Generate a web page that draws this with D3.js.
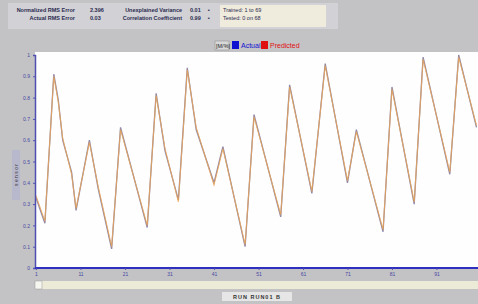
<!DOCTYPE html>
<html><head><meta charset="utf-8">
<script src="https://cdn.jsdelivr.net/npm/d3@7"></script>
<style>body{margin:0;background:#c3c3c6;}svg{display:block;font-family:"Liberation Sans",Arial,sans-serif;}</style>
</head><body>
<script>
// ---- data ----
const sampleIndex = [1,3,5,6,7,9,10,13,15,18,20,26,28,30,33,35,37,41,43,48,50,56,58,63,66,71,73,79,81,86,88,94,96,100];
const actualValues = [0.33,0.21,0.91,0.79,0.60,0.45,0.27,0.60,0.37,0.09,0.66,0.19,0.82,0.55,0.32,0.94,0.65,0.40,0.57,0.10,0.72,0.24,0.86,0.35,0.96,0.40,0.65,0.17,0.85,0.30,0.99,0.44,1.00,0.66];
const predictedValues = [0.34,0.22,0.90,0.78,0.61,0.44,0.28,0.59,0.38,0.10,0.65,0.20,0.81,0.56,0.31,0.93,0.66,0.39,0.56,0.11,0.71,0.25,0.85,0.36,0.95,0.41,0.64,0.18,0.84,0.31,0.98,0.45,0.99,0.67];
const xTickValues = [1,11,21,31,41,51,61,71,81,91];
const yTickValues = [0,0.1,0.2,0.3,0.4,0.5,0.6,0.7,0.8,0.9,1];
const statLabels = ["Normalized RMS Error","Actual RMS Error","Unexplained Variance","Correlation Coefficient"];
const statValues = ["2.396","0.03","0.01","0.99"];
const trainText = ["Trained: 1 to 69","Tested: 0 on 68"];
const legendItems = [{name:"Actual",color:"#1010d0"},{name:"Predicted",color:"#e01010"}];

const W=478,H=304;
const svg=d3.select("body").append("svg").attr("width",W).attr("height",H);
svg.append("rect").attr("width",W).attr("height",H).attr("fill","#c3c3c6");
// top panel
svg.append("rect").attr("x",8).attr("y",3).attr("width",330).attr("height",26).attr("fill","#d2d2d6");
svg.append("rect").attr("x",220).attr("y",5).attr("width",106).attr("height",22).attr("fill","#efebdd");
const st=svg.append("g").attr("font-size",5.5).attr("font-weight","bold").attr("fill","#2a2a50");
statLabels.forEach((t,i)=>{
  const col=Math.floor(i/2),row=i%2;
  st.append("text").attr("x",col?182:75).attr("y",12+row*8).attr("text-anchor","end").text(t);
  st.append("text").attr("x",col?190:90).attr("y",12+row*8).text(statValues[i]);
});
trainText.forEach((t,i)=>st.append("text").attr("x",223).attr("y",12+i*8).attr("font-weight","normal").text(t));
st.append("text").attr("x",208).attr("y",12).text("▪");
st.append("text").attr("x",208).attr("y",20).text("▪");

// legend
const lg=svg.append("g").attr("font-size",7);
lg.append("rect").attr("x",215).attr("y",41).attr("width",14).attr("height",9).attr("fill","#d8d8d8").attr("stroke","#888").attr("stroke-width",0.5);
lg.append("text").attr("x",216).attr("y",48).attr("font-size",5.5).attr("fill","#222").text("[M/%]");
legendItems.forEach((d,i)=>{
  const x0=232+i*29;
  lg.append("rect").attr("x",x0).attr("y",41).attr("width",7).attr("height",8).attr("fill",d.color);
  lg.append("text").attr("x",x0+9).attr("y",48).attr("fill",d.color).text(d.name);
});

// plot
const pL=35,pR=478,pT=52,pB=268;
svg.append("rect").attr("x",pL).attr("y",pT).attr("width",pR-pL).attr("height",pB-pT).attr("fill","#fefefe");
const x=d3.scaleLinear().domain([1,100]).range([36,476.5]);
const y=d3.scaleLinear().domain([0,1]).range([268,55]);
svg.append("defs").append("clipPath").attr("id","c").append("rect").attr("x",pL).attr("y",pT).attr("width",pR-pL).attr("height",pB-pT);
const line=v=>d3.line().x((d,i)=>x(sampleIndex[i])).y(d=>y(d))(v);
const pg=svg.append("g").attr("clip-path","url(#c)");
pg.append("path").attr("d",line(actualValues)).attr("fill","none").attr("stroke","#9088a8").attr("stroke-width",1.3);
pg.append("path").attr("d",line(predictedValues)).attr("fill","none").attr("stroke","#eca552").attr("stroke-width",1.1).attr("opacity",0.8);

// axes
const yAx=svg.append("g").attr("transform",`translate(${pL},0)`).call(d3.axisLeft(y).tickValues(yTickValues).tickSize(2).tickFormat(d3.format("~g")));
yAx.select(".domain").attr("stroke","#5050b0").attr("stroke-width",1.5);
yAx.selectAll("text").attr("font-size",5).attr("fill","#4848a0");
yAx.selectAll(".tick line").attr("stroke","#5050b0");
const xAx=svg.append("g").attr("transform",`translate(0,${pB})`).call(d3.axisBottom(x).tickValues(xTickValues).tickSize(2).tickSizeOuter(0));
xAx.select(".domain").attr("stroke","#3030c0").attr("stroke-width",2).attr("d",`M${pL},0H${pR}`);
xAx.selectAll("text").attr("font-size",5).attr("fill","#4848a0").attr("dy","0.5em");
xAx.selectAll(".tick line").attr("stroke","#5050b0");

// y title strip
svg.append("rect").attr("x",12).attr("y",150).attr("width",8).attr("height",50).attr("fill","#b8b8cc");
svg.append("text").attr("transform","translate(18,175) rotate(-90)").attr("text-anchor","middle").attr("font-size",5).attr("fill","#333").text("s e n s o r");

// scrollbar
svg.append("rect").attr("x",pL).attr("y",281).attr("width",pR-pL).attr("height",8).attr("fill","#ecebd8");
svg.append("rect").attr("x",pL).attr("y",281).attr("width",7).attr("height",8).attr("fill","#f6f6f0").attr("stroke","#999").attr("stroke-width",0.5);

// bottom label
svg.append("rect").attr("x",222).attr("y",292).attr("width",70).attr("height",9).attr("fill","#e6e6e6");
svg.append("text").attr("x",257).attr("y",299).attr("text-anchor","middle").attr("font-size",5.5).attr("font-weight","bold").attr("fill","#333").attr("letter-spacing",1).text("RUN RUN01 B");
</script>
</body></html>
